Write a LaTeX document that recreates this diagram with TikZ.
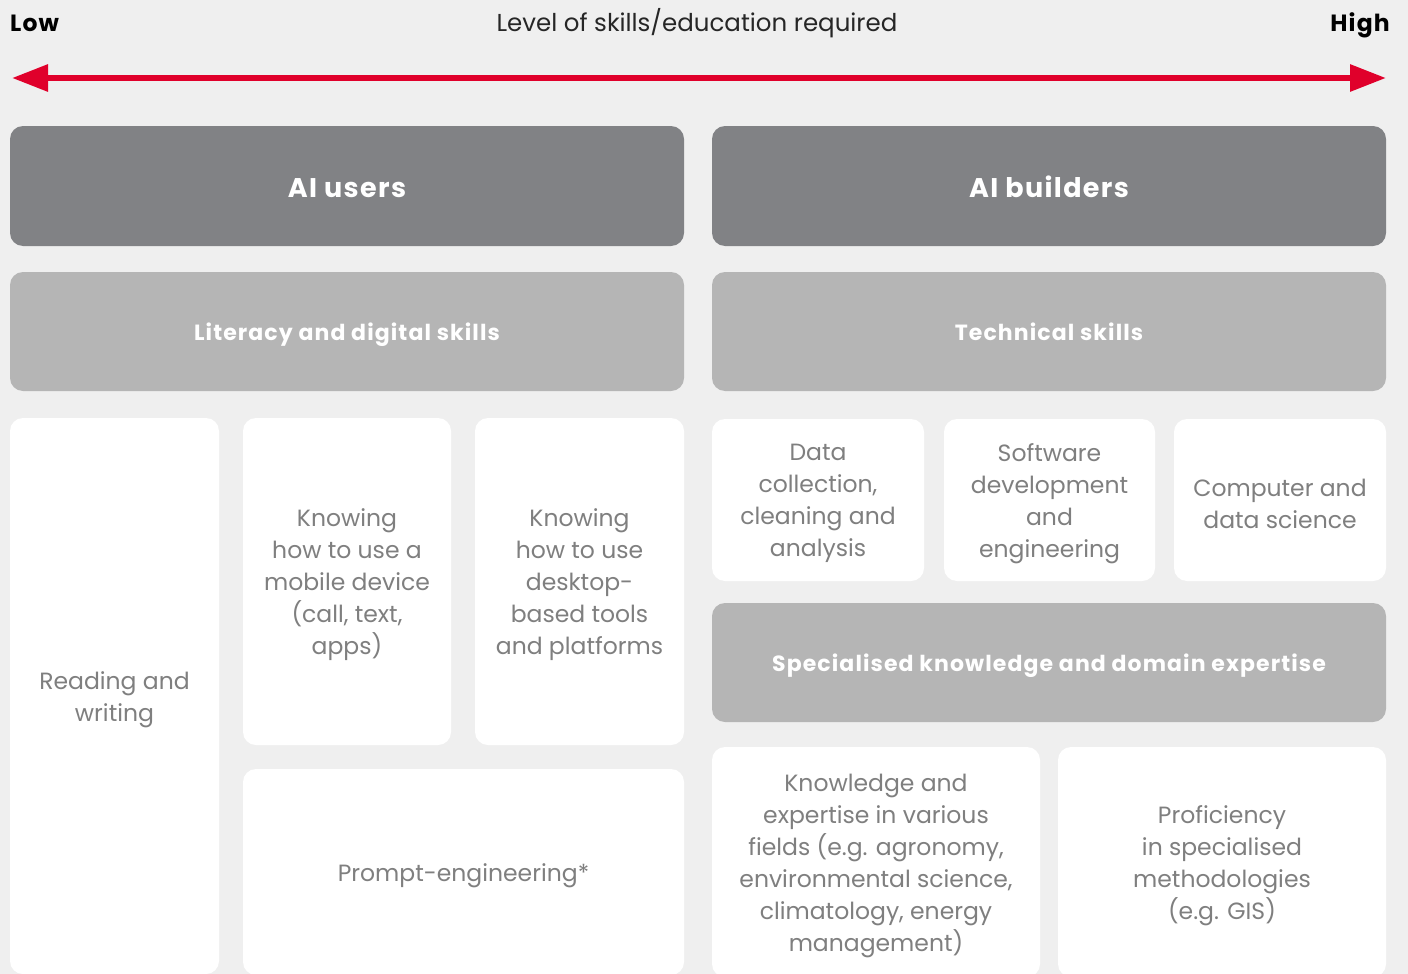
\documentclass[tikz,border=0pt]{standalone}
\usepackage{fontspec}
\setmainfont{Poppins}
\newfontfamily\spaced{Poppins}[LetterSpace=5]
\usetikzlibrary{arrows.meta}
\definecolor{bg}{HTML}{EFEFEF}
\definecolor{darkbox}{HTML}{818285}
\definecolor{midbox}{HTML}{B5B5B5}
\definecolor{txtgray}{HTML}{7F7F7F}
\definecolor{arrred}{HTML}{E0002B}
\tikzset{
  box/.style={rectangle, rounded corners=13pt, inner sep=0pt},
  boxtext/.style={inner sep=0pt, align=center, yshift=-3.5pt},
  headbox/.style={box, fill=darkbox, label={[inner sep=0pt, text height=21.6pt, text depth=2.7pt, yshift=-2pt, text=white, font=\spaced\bfseries\fontsize{27}{30}\selectfont]center:#1}},
  subbox/.style={box, fill=midbox, label={[inner sep=0pt, text height=17.6pt, text depth=2.2pt, yshift=-1.5pt, text=white, font=\spaced\bfseries\fontsize{22}{26}\selectfont]center:#1}},
  whitebox/.style={box, fill=white, label={[boxtext, text=txtgray, font=\fontsize{23.5}{32}\selectfont]center:#1}},
  toplabel/.style={inner sep=0pt, text height=19pt, text depth=2.4pt},
}
\begin{document}
\begin{tikzpicture}[x=1pt,y=-1pt]
\fill[bg] (0,0) rectangle (1408,974);
\useasboundingbox (0,0) rectangle (1408,974);
% header
\node[toplabel, anchor=west, font=\spaced\bfseries\fontsize{23.5}{26}\selectfont] (low) at (10,23) {Low};
\node[toplabel, anchor=east, font=\spaced\bfseries\fontsize{23.5}{26}\selectfont] (high) at (1390,23) {High};
\node[toplabel, text=black!85, font=\fontsize{24.5}{28}\selectfont] (level) at (697,23) {Level of skills/education required};
\coordinate (aleft) at (12,78);
\coordinate (aright) at (1386,78);
\draw[arrred, line width=6pt, {Triangle[length=36pt,width=26pt]}-{Triangle[length=36pt,width=26pt]}] (aleft) -- (aright);
% boxes
\node[headbox={AI users}, minimum width=674pt, minimum height=120pt] (users) at (347,186) {};
\node[headbox={AI builders}, minimum width=674pt, minimum height=120pt] (builders) at (1049,186) {};
\node[subbox={Literacy and digital skills}, minimum width=674pt, minimum height=119pt] (literacy) at (347,331.5) {};
\node[subbox={Technical skills}, minimum width=674pt, minimum height=119pt] (technical) at (1049,331.5) {};
\node[whitebox={Reading and\\writing}, minimum width=209pt, minimum height=556pt] (reading) at (114.5,696) {};
\node[whitebox={Knowing\\how to use a\\mobile device\\(call, text,\\apps)}, minimum width=208pt, minimum height=327pt] (mobile) at (347,581.5) {};
\node[whitebox={Knowing\\how to use\\desktop-\\based tools\\and platforms}, minimum width=209pt, minimum height=327pt] (desktop) at (579.5,581.5) {};
\node[whitebox={Prompt-engineering*}, minimum width=441pt, minimum height=206pt] (prompt) at (463.5,872) {};
\node[whitebox={Data\\collection,\\cleaning and\\analysis}, minimum width=212pt, minimum height=162pt] (data) at (818,500) {};
\node[whitebox={Software\\development\\and\\engineering}, minimum width=211pt, minimum height=162pt] (software) at (1049.5,500) {};
\node[whitebox={Computer and\\data science}, minimum width=212pt, minimum height=162pt] (computer) at (1280,500) {};
\node[subbox={Specialised knowledge and domain expertise}, minimum width=674pt, minimum height=119pt] (special) at (1049,662.5) {};
\node[whitebox={Knowledge and\\expertise in various\\fields (e.g. agronomy,\\environmental science,\\climatology, energy\\management)}, minimum width=328pt, minimum height=230pt] (knowledge) at (876,862) {};
\node[whitebox={Proficiency\\in specialised\\methodologies\\(e.g. GIS)}, minimum width=328pt, minimum height=230pt] (profic) at (1222,862) {};
\end{tikzpicture}
\end{document}
